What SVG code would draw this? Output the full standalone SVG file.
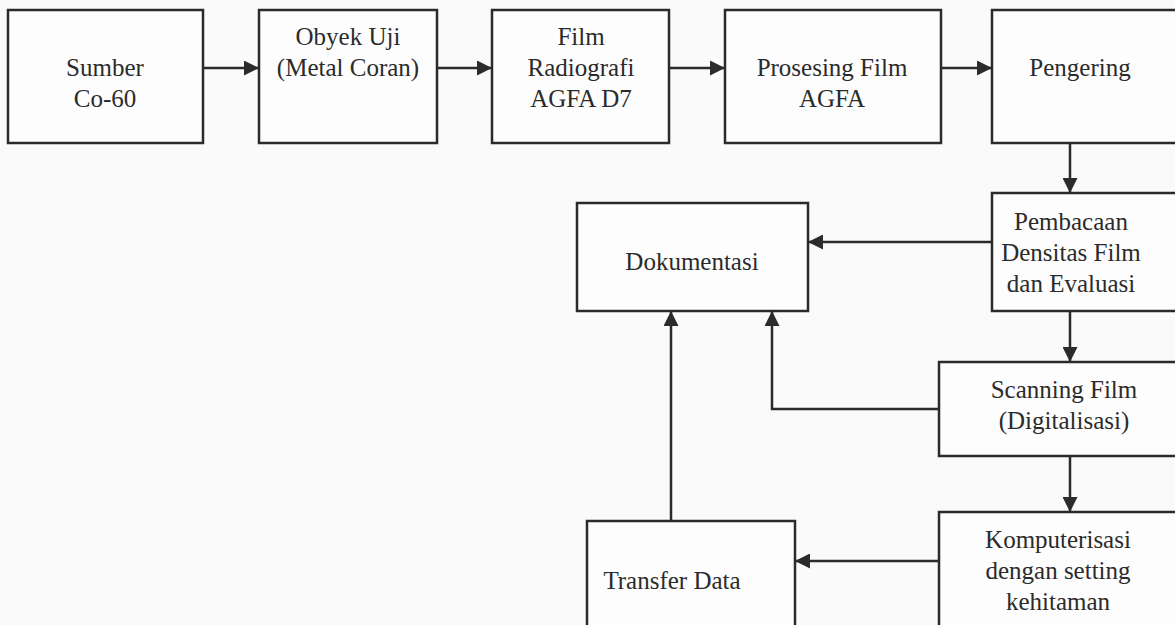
<svg xmlns="http://www.w3.org/2000/svg" width="1175" height="625" viewBox="0 0 1175 625">
<defs>
<style>
.box{fill:#fdfdfd;stroke:#2b2b2b;stroke-width:2.5}
.lbl{font-family:"Liberation Serif","Times New Roman",serif;font-size:25px;fill:#2b2b2b;text-anchor:middle}
.con{fill:none;stroke:#2b2b2b;stroke-width:2.5}
</style>
<marker id="ah" viewBox="0 0 10 10" refX="10" refY="5" markerWidth="6" markerHeight="6" markerUnits="strokeWidth" orient="auto">
<path d="M0,0 L10,5 L0,10 Z" fill="#2b2b2b"/>
</marker>
</defs>
<rect width="1175" height="625" fill="#fafafa"/>
<g id="n1"><rect class="box" x="8" y="10" width="195" height="133"/><text class="lbl" x="105" y="76">Sumber</text><text class="lbl" x="105" y="107">Co-60</text></g>
<g id="n2"><rect class="box" x="259" y="10" width="178" height="133"/><text class="lbl" x="348" y="45">Obyek Uji</text><text class="lbl" x="348" y="76">(Metal Coran)</text></g>
<g id="n3"><rect class="box" x="492" y="10" width="177" height="133"/><text class="lbl" x="581" y="45">Film</text><text class="lbl" x="581" y="76">Radiografi</text><text class="lbl" x="581" y="107">AGFA D7</text></g>
<g id="n4"><rect class="box" x="725" y="10" width="216" height="133"/><text class="lbl" x="832" y="76">Prosesing Film</text><text class="lbl" x="832" y="107">AGFA</text></g>
<g id="n5"><rect class="box" x="992" y="10" width="190" height="133"/><text class="lbl" x="1080" y="76">Pengering</text></g>
<g id="n6"><rect class="box" x="992" y="193" width="190" height="118"/><text class="lbl" x="1071" y="230">Pembacaan</text><text class="lbl" x="1071" y="261">Densitas Film</text><text class="lbl" x="1071" y="292">dan Evaluasi</text></g>
<g id="n7"><rect class="box" x="577" y="203" width="231" height="108"/><text class="lbl" x="692" y="270">Dokumentasi</text></g>
<g id="n8"><rect class="box" x="939" y="362" width="243" height="94"/><text class="lbl" x="1064" y="398">Scanning Film</text><text class="lbl" x="1064" y="429">(Digitalisasi)</text></g>
<g id="n9"><rect class="box" x="939" y="512" width="243" height="125"/><text class="lbl" x="1058" y="548">Komputerisasi</text><text class="lbl" x="1058" y="579">dengan setting</text><text class="lbl" x="1058" y="610">kehitaman</text></g>
<g id="n10"><rect class="box" x="587" y="521" width="208" height="116"/><text class="lbl" x="672" y="589">Transfer Data</text></g>
<g id="connectors">
<line class="con" x1="203" y1="68" x2="259" y2="68" marker-end="url(#ah)"/>
<line class="con" x1="437" y1="68" x2="492" y2="68" marker-end="url(#ah)"/>
<line class="con" x1="669" y1="68" x2="725" y2="68" marker-end="url(#ah)"/>
<line class="con" x1="941" y1="68" x2="992" y2="68" marker-end="url(#ah)"/>
<line class="con" x1="1070" y1="143" x2="1070" y2="193" marker-end="url(#ah)"/>
<line class="con" x1="992" y1="242" x2="808" y2="242" marker-end="url(#ah)"/>
<line class="con" x1="1070" y1="311" x2="1070" y2="362" marker-end="url(#ah)"/>
<polyline class="con" points="939,409 772,409 772,311" marker-end="url(#ah)"/>
<line class="con" x1="1070" y1="456" x2="1070" y2="512" marker-end="url(#ah)"/>
<line class="con" x1="939" y1="561" x2="795" y2="561" marker-end="url(#ah)"/>
<line class="con" x1="671" y1="521" x2="671" y2="311" marker-end="url(#ah)"/>
</g>
</svg>
